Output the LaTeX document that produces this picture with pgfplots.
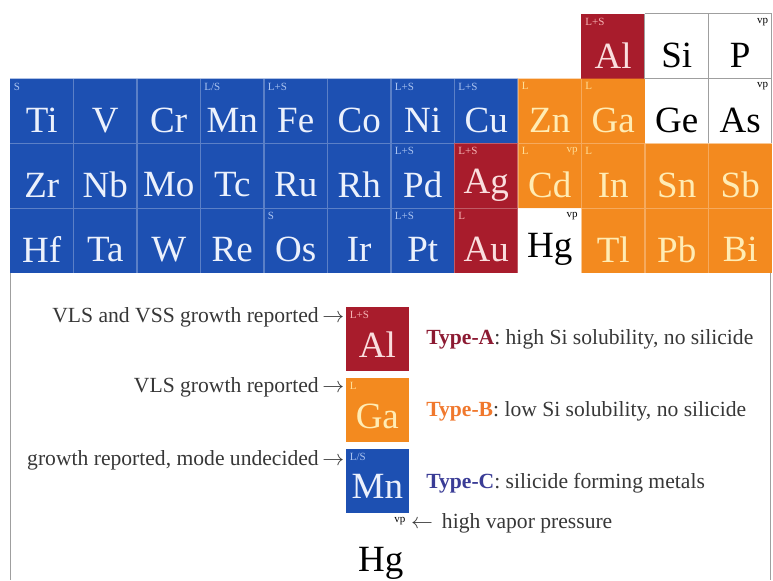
\documentclass[border=0pt]{standalone}
\usepackage{pgfplots}
\pgfplotsset{compat=1.18}
\usepackage{fontspec}
\setmainfont{Liberation Serif}
\definecolor{cBlue}{RGB}{29,80,178}
\definecolor{cRed}{RGB}{168,28,44}
\definecolor{cOrange}{RGB}{243,138,31}
\definecolor{tBlue}{RGB}{236,241,252}
\definecolor{tRed}{RGB}{250,222,222}
\definecolor{tOrange}{RGB}{255,236,180}
\definecolor{sBlue}{RGB}{170,195,240}
\definecolor{sRed}{RGB}{245,180,180}
\definecolor{sOrange}{RGB}{255,222,150}
\definecolor{typeA}{RGB}{140,26,50}
\definecolor{typeB}{RGB}{240,120,45}
\definecolor{typeC}{RGB}{58,60,150}
\definecolor{legtext}{RGB}{55,55,55}
\pgfplotsset{
  elem/.style={draw=none, mark=none,
    point meta=explicit symbolic, nodes near coords, nodes near coords align=center,
    nodes near coords style={font=\fontsize{18.5}{20}\selectfont, inner sep=0pt, text=#1}},
  supl/.style={draw=none, mark=none,
    point meta=explicit symbolic, nodes near coords, nodes near coords align=north west,
    nodes near coords style={font=\fontsize{5.5}{6}\selectfont, inner sep=0.5pt, text=#1}},
  supr/.style={draw=none, mark=none,
    point meta=explicit symbolic, nodes near coords, nodes near coords align=north east,
    nodes near coords style={font=\fontsize{5.5}{6}\selectfont, inner sep=0.5pt, text=#1}},
}
\begin{document}
\begin{tikzpicture}
\begin{axis}[hide axis, scale only axis, width=386.5pt, height=290pt,
  xmin=-0.1575, xmax=12.016, ymin=-0.2162, ymax=8.741, y dir=reverse, clip=false]
% bounding box
\addplot [draw=none, mark=none] coordinates {(-0.1575,-0.2162) (12.016,8.741)};
% cell areas
\addplot [fill=cBlue, draw=none] coordinates {(0,1) (8,1) (8,2) (7,2) (7,4) (0,4)} --cycle;
\addplot [fill=cRed, draw=none] coordinates {(7,2) (8,2) (8,4) (7,4)} --cycle;
\addplot [fill=cRed, draw=none] coordinates {(9,0) (10,0) (10,1) (9,1)} --cycle;
\addplot [fill=cOrange, draw=none] coordinates {(8,1) (10,1) (10,2) (12,2) (12,4) (9,4) (9,3) (8,3)} --cycle;
% legend cells
\addplot [fill=cRed, draw=none] coordinates {(5.29,4.525) (6.28,4.525) (6.28,5.51) (5.29,5.51)} --cycle;
\addplot [fill=cOrange, draw=none] coordinates {(5.29,5.62) (6.28,5.62) (6.28,6.61) (5.29,6.61)} --cycle;
\addplot [fill=cBlue, draw=none] coordinates {(5.29,6.72) (6.28,6.72) (6.28,7.71) (5.29,7.71)} --cycle;
% faint grid lines
\addplot [white, opacity=0.28, line width=0.6pt, unbounded coords=jump, mark=none] coordinates {
 (1,1) (1,4) (nan,nan) (2,1) (2,4) (nan,nan) (3,1) (3,4) (nan,nan) (4,1) (4,4) (nan,nan)
 (5,1) (5,4) (nan,nan) (6,1) (6,4) (nan,nan) (7,1) (7,4) (nan,nan) (8,1) (8,4) (nan,nan)
 (9,1) (9,4) (nan,nan) (10,2) (10,4) (nan,nan) (11,2) (11,4) (nan,nan)
 (0,2) (12,2) (nan,nan) (0,3) (12,3)};
% gray borders
\addplot [gray!75, line width=0.5pt, unbounded coords=jump, mark=none] coordinates {
 (10,0) (12,0) (12,2) (nan,nan) (11,0) (11,2) (nan,nan) (10,0) (10,1) (nan,nan) (10,1) (12,1) (nan,nan)
 (0,4) (0,8.741) (nan,nan) (11.97,4) (11.97,8.741)};
% element symbols
\addplot [elem=tBlue] table [meta=lab] {
x y lab
0.5 1.64 Ti
1.5 1.64 V
2.5 1.64 Cr
3.5 1.64 Mn
4.5 1.64 Fe
5.5 1.64 Co
6.5 1.64 Ni
7.5 1.64 Cu
0.5 2.64 Zr
1.5 2.64 Nb
2.5 2.64 Mo
3.5 2.64 Tc
4.5 2.64 Ru
5.5 2.64 Rh
6.5 2.64 Pd
0.5 3.64 Hf
1.5 3.64 Ta
2.5 3.64 W
3.5 3.64 Re
4.5 3.64 Os
5.5 3.64 Ir
6.5 3.64 Pt
5.785 7.30 Mn
};
\addplot [elem=tRed] table [meta=lab] {
x y lab
9.5 0.64 Al
7.5 2.64 Ag
7.5 3.64 Au
5.785 5.10 Al
};
\addplot [elem=tOrange] table [meta=lab] {
x y lab
8.5 1.64 Zn
9.5 1.64 Ga
8.5 2.64 Cd
9.5 2.64 In
10.5 2.64 Sn
11.5 2.64 Sb
9.5 3.64 Tl
10.5 3.64 Pb
11.5 3.64 Bi
5.785 6.21 Ga
};
\addplot [elem=black] table [meta=lab] {
x y lab
10.5 0.64 Si
11.5 0.64 P
10.5 1.64 Ge
11.5 1.64 As
8.5 3.64 Hg
5.84 8.48 Hg
};
% superscript labels
\addplot [supl=sBlue] table [meta=lab] {
x y lab
0.04 1.04 S
3.04 1.04 L/S
4.04 1.04 L+S
6.04 1.04 L+S
7.04 1.04 L+S
6.04 2.04 L+S
4.04 3.04 S
6.04 3.04 L+S
5.33 6.76 L/S
};
\addplot [supl=sRed] table [meta=lab] {
x y lab
9.04 0.04 L+S
7.04 2.04 L+S
7.04 3.04 L
5.33 4.565 L+S
};
\addplot [supl=sOrange] table [meta=lab] {
x y lab
8.04 1.04 L
9.04 1.04 L
8.04 2.04 L
9.04 2.04 L
5.33 5.66 L
};
\addplot [supr=sOrange] table [meta=lab] {
x y lab
8.96 2.04 vp
};
\addplot [supr=black] table [meta=lab] {
x y lab
11.96 0.04 vp
11.96 1.04 vp
8.96 3.04 vp
6.25 7.75 vp
};
% legend texts
\begin{scope}[every node/.style={font=\fontsize{10.8}{13}\selectfont, text=legtext, inner sep=0pt}]
\node [anchor=east] at (axis cs:5.27,4.68) {VLS and VSS growth reported\,$\rightarrow$};
\node [anchor=east] at (axis cs:5.27,5.76) {VLS growth reported\,$\rightarrow$};
\node [anchor=east] at (axis cs:5.27,6.90) {growth reported, mode undecided\,$\rightarrow$};
\node [anchor=west] at (axis cs:6.55,5.03) {\textbf{\textcolor{typeA}{Type-A}}: high Si solubility, no silicide};
\node [anchor=west] at (axis cs:6.55,6.13) {\textbf{\textcolor{typeB}{Type-B}}: low Si solubility, no silicide};
\node [anchor=west] at (axis cs:6.55,7.24) {\textbf{\textcolor{typeC}{Type-C}}: silicide forming metals};
\node [anchor=west] at (axis cs:6.31,7.86) {$\leftarrow$\, high vapor pressure};
\end{scope}
\end{axis}
\end{tikzpicture}
\end{document}
